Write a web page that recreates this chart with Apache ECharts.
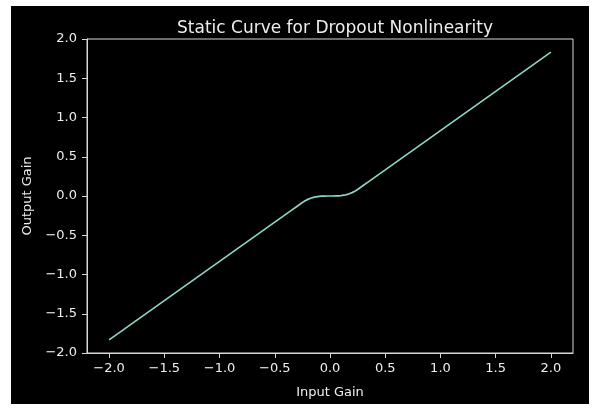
<!DOCTYPE html>
<html>
<head>
<meta charset="utf-8">
<script src="https://cdn.jsdelivr.net/npm/echarts@6/dist/echarts.min.js"></script>
<style>
html,body{margin:0;padding:0;background:#ffffff;}
#c{width:592px;height:409px;}
</style>
</head>
<body>
<div id="c"></div>
<script>
const inputGain = [-2.0, -1.0, -0.5, -0.35, -0.3, -0.275, -0.25, -0.225, -0.2, -0.175, -0.15, -0.125, -0.1, -0.075, -0.05, -0.025, 0.0, 0.025, 0.05, 0.075, 0.1, 0.125, 0.15, 0.175, 0.2, 0.225, 0.25, 0.275, 0.3, 0.35, 0.5, 1.0, 2.0];
const outputGain = [-1.833, -0.833, -0.333, -0.183, -0.133, -0.108, -0.083, -0.061, -0.043, -0.029, -0.018, -0.010, -0.005, -0.002, -0.001, 0.000, 0.0, 0.000, 0.001, 0.002, 0.005, 0.010, 0.018, 0.029, 0.043, 0.061, 0.083, 0.108, 0.133, 0.183, 0.333, 0.833, 1.833];
const xTicks = [-2.0, -1.5, -1.0, -0.5, 0.0, 0.5, 1.0, 1.5, 2.0];
const titleText = 'Static Curve for Dropout Nonlinearity';
const xLabel = 'Input Gain';
const yLabel = 'Output Gain';

const fmt = v => (v < 0 ? '\u2212' : '') + Math.abs(v).toFixed(1);
const fg = '#eeeeee';
const axisCol = '#d8d8d8';
const font = 'DejaVu Sans';

const chart = echarts.init(document.getElementById('c'), null, {renderer: 'canvas'});
chart.setOption({
  animation: false,
  backgroundColor: '#ffffff',
  graphic: [{
    type: 'rect', z: -10, silent: true,
    shape: {x: 11, y: 6, width: 578, height: 398},
    style: {fill: '#000000'}
  }],
  title: {
    text: titleText,
    left: 330, top: 15, textAlign: 'center',
    textStyle: {color: fg, fontFamily: font, fontSize: 17, fontWeight: 'normal'}
  },
  grid: {
    left: 87, right: 19, top: 39, bottom: 56,
    show: true, borderColor: axisCol, borderWidth: 1, backgroundColor: 'transparent'
  },
  xAxis: {
    type: 'value', min: -2.2, max: 2.2,
    name: xLabel, nameLocation: 'middle', nameGap: 33,
    nameTextStyle: {color: fg, fontFamily: font, fontSize: 13},
    axisLine: {show: true, onZero: false, lineStyle: {color: axisCol, width: 1}},
    axisTick: {show: true, inside: false, length: 5, customValues: xTicks, lineStyle: {color: axisCol}},
    axisLabel: {customValues: xTicks, formatter: fmt, color: fg, fontFamily: font, fontSize: 13, margin: 9},
    splitLine: {show: false}
  },
  yAxis: {
    type: 'value', min: -2, max: 2, interval: 0.5,
    name: yLabel, nameLocation: 'middle', nameGap: 51, nameRotate: 90,
    nameTextStyle: {color: fg, fontFamily: font, fontSize: 13},
    axisLine: {show: true, onZero: false, lineStyle: {color: axisCol, width: 1}},
    axisTick: {show: true, inside: false, length: 5, lineStyle: {color: axisCol}},
    axisLabel: {formatter: fmt, color: fg, fontFamily: font, fontSize: 13, margin: 10},
    splitLine: {show: false}
  },
  series: [{
    type: 'line',
    data: inputGain.map((x, i) => [x, outputGain[i]]),
    showSymbol: false,
    smooth: false,
    lineStyle: {color: '#8dd3c7', width: 1.7},
    clip: false
  }]
});
</script>
</body>
</html>
